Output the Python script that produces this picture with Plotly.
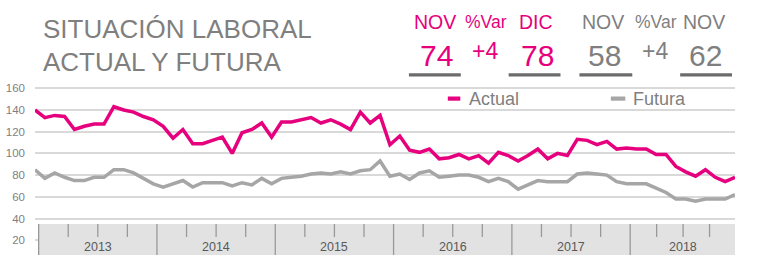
import plotly.graph_objects as go

years = ["2013", "2014", "2015", "2016", "2017", "2018"]
months_idx = list(range(72))  # Jan 2013 .. Dec 2018

actual = [140, 133, 135, 134, 122, 125, 127, 127, 143, 140, 138, 134,
          131, 125, 114, 122, 109, 109, 112, 115, 100, 119, 122, 128,
          115, 129, 129, 131, 133, 128, 131, 127, 122, 138, 128, 135,
          108, 116, 103, 101, 104, 95, 96, 99, 95, 98, 91, 101,
          98, 93, 98, 104, 95, 100, 98, 113, 112, 108, 111, 104,
          105, 104, 104, 99, 99, 88, 83, 79, 85, 78, 74, 78]
futura = [85, 77, 82, 78, 75, 75, 78, 78, 85, 85, 82, 77,
          72, 69, 72, 75, 69, 73, 73, 73, 70, 73, 71, 77,
          72, 77, 78, 79, 81, 82, 81, 83, 81, 84, 85, 93,
          79, 81, 76, 82, 84, 78, 79, 80, 80, 78, 74, 77,
          74, 67, 71, 75, 74, 74, 74, 81, 82, 81, 80, 74,
          72, 72, 72, 68, 64, 58, 58, 56, 58, 58, 58, 62]
y_ticks = [20, 40, 60, 80, 100, 120, 140, 160]

# header figures
hdr_pink = {"m1": "NOV", "var": "%Var", "m2": "DIC", "v1": "74", "d": "+4", "v2": "78"}
hdr_gray = {"m1": "NOV", "var": "%Var", "m2": "NOV", "v1": "58", "d": "+4", "v2": "62"}

PINK = "#e6007e"
GRAYL = "#a6a6a6"
TXT = "#7f7f7f"
FONT = "Liberation Sans, Arial, sans-serif"

W, H = 768, 261
L, R, T, B = 33, 33, 86, 6
PW, PH = W - L - R, H - T - B


def px(x):
    return (x - L) / PW


def py(y):
    return (H - B - y) / PH


fig = go.Figure()
fig.add_trace(go.Scatter(x=months_idx, y=actual, mode="lines", name="Actual",
                         line=dict(color=PINK, width=3.5), showlegend=False))
fig.add_trace(go.Scatter(x=months_idx, y=futura, mode="lines", name="Futura",
                         line=dict(color=GRAYL, width=3.5), showlegend=False))

# band (year axis)
bounds = [12 * k + 0.37 for k in range(6)] + [71.1]
band_top = py(224)
shapes = [dict(type="rect", xref="x", yref="paper", x0=bounds[0], x1=bounds[-1],
               y0=0, y1=band_top, fillcolor="#e2e2e2", line=dict(width=0), layer="above")]
qtick_bot = py(237)
annotations = []
for i, yr in enumerate(years):
    a, b = bounds[i], bounds[i + 1]
    shapes.append(dict(type="line", xref="x", yref="paper", x0=a, x1=a, y0=0, y1=band_top,
                       line=dict(color="#999999", width=1.3), layer="above"))
    for q in (1, 2, 3):
        xq = a + (b - a) * q / 4
        shapes.append(dict(type="line", xref="x", yref="paper", x0=xq, x1=xq,
                           y0=qtick_bot, y1=band_top,
                           line=dict(color="#999999", width=1.3), layer="above"))
    annotations.append(dict(x=(a + b) / 2, y=py(247), xref="x", yref="paper",
                            text=yr, showarrow=False, yanchor="middle",
                            font=dict(family=FONT, size=12.5, color="#595959")))
shapes.append(dict(type="line", xref="x", yref="paper", x0=bounds[-1], x1=bounds[-1],
                   y0=0, y1=band_top, line=dict(color="#999999", width=1.3), layer="above"))

# title
for txt, yc in (("SITUACIÓN LABORAL", 29), ("ACTUAL Y FUTURA", 61.5)):
    annotations.append(dict(x=px(39), y=py(yc), xref="paper", yref="paper", text=txt,
                            showarrow=False, xanchor="left", yanchor="middle",
                            font=dict(family=FONT, size=26, color=TXT)))


# header numbers
def header(h, color, xs):
    m1x, varx, m2x = xs
    return [
        (h["m1"], m1x, 21.7, 19.5, color),
        (h["var"], varx, 22.3, 17.5, color),
        (h["m2"], m2x, 21.7, 19.5, color),
        (h["v1"], m1x + 1, 55.5, 30, color),
        (h["d"], varx - 1, 51.5, 23, color),
        (h["v2"], m2x + 1, 55.5, 30, color),
    ]


items = header(hdr_pink, PINK, (434.5, 485, 535.5)) + header(hdr_gray, TXT, (603, 655.5, 704))
for txt, xc, yc, sz, col in items:
    annotations.append(dict(x=px(xc), y=py(yc), xref="paper", yref="paper", text=txt,
                            showarrow=False, xanchor="center", yanchor="middle",
                            font=dict(family=FONT, size=sz, color=col)))
for x0, x1 in ((408, 460), (508, 560), (579, 632), (680, 732)):
    shapes.append(dict(type="rect", xref="paper", yref="paper", x0=px(x0), x1=px(x1),
                       y0=py(76.5), y1=py(73.3), fillcolor="#6b6b6b", line=dict(width=0)))

# legend (manual)
for name, col, x0, x1, tx in (("Actual", PINK, 447, 459.5, 466), ("Futura", GRAYL, 610.5, 625, 630.5)):
    shapes.append(dict(type="rect", xref="paper", yref="paper", x0=px(x0), x1=px(x1),
                       y0=py(100.7), y1=py(96.5), fillcolor=col, line=dict(width=0)))
    annotations.append(dict(x=px(tx), y=py(98.5), xref="paper", yref="paper", text=name,
                            showarrow=False, xanchor="left", yanchor="middle",
                            font=dict(family=FONT, size=18, color=TXT)))

fig.update_layout(
    width=W, height=H, margin=dict(l=L, r=R, t=T, b=B, pad=0),
    paper_bgcolor="white", plot_bgcolor="white",
    xaxis=dict(range=[0, 71], showgrid=False, zeroline=False, showticklabels=False,
               showline=False, ticks=""),
    yaxis=dict(range=[6.4, 162.1], tickvals=y_ticks, showgrid=True, gridcolor="#d9d9d9",
               gridwidth=1.5, zeroline=False, showline=False, ticks="",
               ticklabelstandoff=9,
               tickfont=dict(family=FONT, size=11.5, color=TXT)),
    shapes=shapes, annotations=annotations, showlegend=False,
)
fig.write_html("out.html")
